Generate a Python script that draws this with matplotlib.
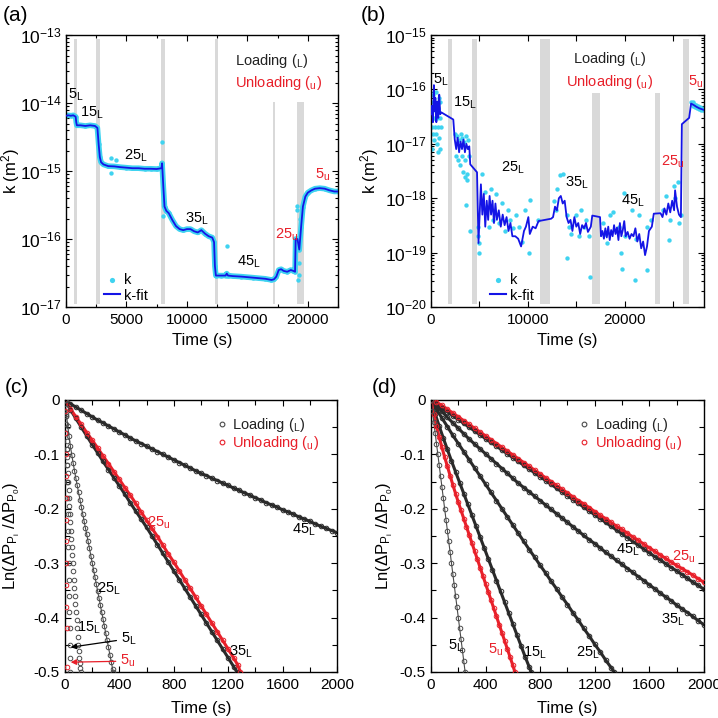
import numpy as np
import matplotlib
matplotlib.use('Agg')
import matplotlib.pyplot as plt
from matplotlib.ticker import LogLocator, NullFormatter, MultipleLocator, FixedLocator

plt.rcParams['font.family'] = ['Liberation Sans', 'DejaVu Sans']
plt.rcParams['mathtext.fontset'] = 'custom'
plt.rcParams['mathtext.rm'] = 'Liberation Sans'
plt.rcParams['mathtext.it'] = 'Liberation Sans:italic'
plt.rcParams['mathtext.bf'] = 'Liberation Sans:bold'

CYAN = '#3fd3f0'
BLUE = '#1414e6'
RED = '#e8202a'
GRAY = '#4a4a4a'
DARK = '#2a2a2a'
BAR = '#d9d9d9'

# ---------------- panel (a) ----------------
T_A = [0, 200, 400, 600, 800, 850, 900, 1200, 1600, 2000, 2400, 2600, 2700, 2800, 2900,
       3100, 3500, 4000, 4500, 5000, 5500, 6000, 6500, 7000, 7500, 7900, 7950, 8050,
       8150, 8300, 8500, 8800, 9100, 9400, 9700, 10000, 10300, 10600, 10900, 11200,
       11500, 11800, 12100, 12250, 12320, 12400, 12800, 13200, 13300, 13400, 13800,
       14500, 15000, 15500, 16000, 16500, 17000, 17200, 17400, 17600, 17800, 18000,
       18300, 18600, 18800, 18950, 19000, 19150, 19300, 19450, 19600, 19800, 20000,
       20300, 20600, 21000, 21400, 21800, 22200, 22500]
K_A = [6.5, 6.6, 6.5, 6.6, 6.3, 5.2, 4.7, 4.7, 4.6, 4.7, 4.6, 4.3, 2.5, 1.6, 1.35,
       1.25, 1.18, 1.17, 1.14, 1.12, 1.1, 1.1, 1.08, 1.08, 1.07, 1.1, 1.3, 0.6,
       0.3, 0.26, 0.24, 0.19, 0.155, 0.14, 0.135, 0.14, 0.14, 0.13, 0.125, 0.135,
       0.12, 0.11, 0.105, 0.09, 0.04, 0.029, 0.029, 0.029, 0.031, 0.029, 0.0285,
       0.028, 0.0275, 0.027, 0.0265, 0.026, 0.025, 0.0255, 0.028, 0.035, 0.036, 0.034,
       0.033, 0.035, 0.034, 0.033, 0.1, 0.1, 0.07, 0.15, 0.3, 0.42, 0.48,
       0.52, 0.55, 0.56, 0.55, 0.52, 0.5, 0.5]  # x 1e-15
T_A_OUT = [3700, 3700, 4100, 7980, 8000, 8050, 13300, 19100, 19150, 19200, 19250, 19300, 19350]
K_A_OUT = [1.55, 0.92, 1.45, 2.7, 0.5, 0.22, 0.08, 0.31, 0.27, 0.025, 0.03, 0.045, 0.2]
BARS_A = [(700, 900), (2500, 2800), (7900, 8200), (12300, 12550), (17150, 17330), (19100, 19650)]
BARS_A_TALL = [True, True, True, True, False, False]

# ---------------- panel (b) ----------------
T_B = [0, 100, 200, 300, 350, 450, 550, 650, 750, 850, 950, 1050, 2300, 2450, 2600,
       2750, 2900, 3050, 3200, 3350, 3500, 3650, 3800, 3950, 4050, 4750, 4900, 5000,
       5150, 5300, 5450, 5600, 5750, 5900, 6050, 6200, 6350, 6500, 6650, 6800, 7000,
       7200, 7400, 7600, 7800, 8000, 8200, 8400, 8700, 9000, 9300, 9600, 9800, 10050,
       10200, 10500, 10800, 11100, 12400, 12600, 12800, 13000, 13200, 13400, 13600,
       13800, 14000, 14200, 14400, 14600, 14800, 15000, 15200, 15400, 15600, 15800,
       16000, 16200, 16500, 16650, 17450, 17550, 17700, 17850, 18000, 18150, 18300,
       18450, 18600, 18750, 18900, 19050, 19200, 19350, 19500, 19650, 19800, 19950,
       20100, 20300, 20500, 20700, 20900, 21100, 21300, 21500, 21700, 21900, 22100,
       22300, 22500, 22800, 23000, 23700, 23900, 24100, 24300, 24500, 24700, 24900,
       25100, 25200, 25400, 25600, 25800, 25900, 26650, 26850, 27100, 27400, 27700,
       28000, 28170]
K_B = [3.5e-17, 5e-17, 2.5e-17, 1.2e-16, 4e-17, 7e-17, 2.5e-17, 6e-17, 3e-17, 8e-17,
       3.5e-17, 3.8e-17, 2.8e-17, 1.2e-17, 8e-18, 1.3e-17, 7e-18, 1.1e-17, 8e-18,
       1.2e-17, 7e-18, 1e-17, 8e-18, 9e-18, 4.2e-18, 3e-18, 1.5e-19, 4e-19, 1.8e-18,
       5e-19, 1.2e-18, 3e-19, 9e-19, 4e-19, 1.1e-18, 5e-19, 9e-19, 3.5e-19, 8e-19,
       4e-19, 6e-19, 3e-19, 5e-19, 3.2e-19, 4.5e-19, 2.5e-19, 3.5e-19, 2e-19, 2e-19,
       1.8e-19, 1.3e-19, 2.5e-19, 3e-19, 4.5e-19, 2.2e-19, 3e-19, 2.8e-19, 3.8e-19,
       4.2e-19, 4.5e-19, 7e-19, 6e-19, 1e-18, 1.1e-18, 8e-19, 9e-19, 4.5e-19, 3.5e-19,
       4e-19, 2.5e-19, 4.5e-19, 3e-19, 3.5e-19, 2.2e-19, 3.2e-19, 2.8e-19, 3.5e-19,
       2.4e-19, 3e-19, 4.8e-19, 4.5e-19, 2e-19, 2.5e-19, 1.8e-19, 2.8e-19, 1.9e-19,
       3e-19, 1.7e-19, 2.6e-19, 2e-19, 3.2e-19, 2.2e-19, 2.9e-19, 1.7e-19, 3.5e-19,
       2e-19, 2.6e-19, 3.8e-19, 2e-19, 2.4e-19, 1.8e-19, 2.2e-19, 2e-19, 2.8e-19,
       1.6e-19, 2.2e-19, 1.2e-19, 1.6e-19, 9e-20, 1.3e-19, 2.5e-19, 3e-19, 5.2e-19,
       5.3e-19, 4.5e-19, 6.5e-19, 5e-19, 8e-19, 5.5e-19, 9e-19, 6e-19, 1.4e-18, 7e-19,
       5e-19, 4.5e-19, 2.3e-17, 3e-17, 5.5e-17, 5.2e-17, 4.8e-17, 4.5e-17, 4.3e-17, 4.2e-17]
T_B_PTS = [50, 100, 150, 200, 250, 300, 350, 400, 450, 500, 550, 600, 650, 700, 750, 800,
           850, 900, 950, 1000, 150, 700, 350, 900,
           2450, 2550, 2650, 2750, 2850, 2950, 3050, 3150, 3250, 3350, 3450, 3550, 3650,
           3750, 3850, 3950, 3700, 3500, 3590, 4030,
           4850, 4900, 4950, 5000, 5310, 5600, 5800, 6000, 6200, 6400, 6700, 7000, 7300,
           7600, 7900, 8200, 8500, 8800, 9100, 9400, 9700, 10070, 10240,
           11000, 12700, 12900, 13000, 13340, 13600, 14000, 14030, 14200, 14500, 15000,
           15300, 15500, 15800, 16000, 16300, 16450,
           17800, 18000, 18200, 18500, 18830, 19400, 19600, 19720, 19900, 20000, 20760,
           21100, 21200, 21500, 22300, 22300, 22700,
           24000, 24300, 24550, 24700, 25070, 25200, 25520, 25600, 25800,
           26800, 26900, 27000, 27100, 27200, 27300, 27400, 27500, 27600, 27700, 27800,
           27900, 28000, 28100]
K_B_PTS = [6e-17, 2e-17, 4e-17, 1.5e-17, 8e-17, 3e-17, 1.2e-17, 5e-17, 2e-17, 9e-17,
           1.5e-17, 3e-17, 1e-17, 4.5e-17, 2e-17, 7e-17, 1.3e-17, 3e-17, 6e-17, 2e-17,
           8e-18, 7e-18, 9e-17, 8e-18,
           1.5e-17, 6e-18, 1.4e-17, 5e-18, 1.2e-17, 4e-18, 1.5e-17, 6e-18, 1.3e-17,
           3e-18, 1.1e-17, 5e-18, 1.4e-17, 2.8e-18, 1.2e-17, 6e-18, 2.2e-18, 2.5e-18,
           7.4e-19, 2.5e-19,
           3e-19, 2e-19, 1e-19, 1.5e-19, 2.8e-18, 1.3e-18, 7e-19, 3e-19, 1.5e-18, 4e-19,
           1.2e-18, 3.5e-19, 8e-19, 2.5e-19, 6e-19, 4e-19, 2.8e-19, 5e-19, 3e-19,
           1.6e-19, 6e-19, 1e-19, 9.3e-19,
           4e-19, 9e-19, 6e-19, 1.5e-18, 2.7e-18, 2.8e-18, 5e-19, 7.8e-20, 3e-19, 2.2e-19,
           5e-19, 2e-19, 6e-19, 3e-19, 4e-19, 2e-19, 3.5e-20,
           3.5e-19, 2.2e-19, 1.5e-19, 5e-19, 5.6e-19, 3e-19, 1e-19, 5e-20, 1.26e-18,
           2e-19, 6.1e-19, 3.1e-20, 1.8e-19, 5e-19, 4.7e-20, 3e-19, 4e-19,
           6e-19, 1.1e-18, 1.7e-19, 4e-19, 1.7e-18, 1e-18, 2e-18, 3.5e-19, 5e-19,
           6e-17, 5.5e-17, 5.8e-17, 5e-17, 5.5e-17, 4.7e-17, 5.2e-17, 4.5e-17, 5e-17,
           4.3e-17, 4.8e-17, 4.2e-17, 4.6e-17, 4.1e-17]
BARS_B = [(1720, 2140), (4280, 4720), (11280, 12310), (16620, 17480), (23170, 23690), (26000, 26620)]
BARS_B_TALL = [True, True, True, False, False, True]

# ---------------- panel (c) ----------------
T_C45 = list(range(0, 2001, 40))
Y_C45 = [0, -0.007, -0.013, -0.019, -0.025, -0.031, -0.037, -0.042, -0.048, -0.053,
         -0.059, -0.064, -0.07, -0.075, -0.08, -0.085, -0.09, -0.095, -0.1, -0.105,
         -0.11, -0.115, -0.12, -0.125, -0.13, -0.135, -0.139, -0.144, -0.148, -0.153,
         -0.157, -0.162, -0.166, -0.171, -0.175, -0.18, -0.184, -0.189, -0.193, -0.197,
         -0.202, -0.206, -0.21, -0.215, -0.219, -0.223, -0.228, -0.232, -0.236, -0.24, -0.244]
T_C35 = list(range(0, 1241, 40)) + [1265]
Y_C35 = [0, -0.018, -0.034, -0.05, -0.066, -0.082, -0.097, -0.113, -0.128, -0.143,
         -0.158, -0.173, -0.189, -0.204, -0.219, -0.234, -0.25, -0.266, -0.282, -0.298,
         -0.314, -0.33, -0.346, -0.362, -0.378, -0.394, -0.41, -0.426, -0.442, -0.458,
         -0.474, -0.49, -0.5]
T_C25U = list(range(0, 1241, 40)) + [1270, 1290]
Y_C25U = [0, -0.016, -0.031, -0.045, -0.06, -0.074, -0.088, -0.103, -0.117, -0.132,
          -0.146, -0.161, -0.175, -0.19, -0.206, -0.221, -0.236, -0.251, -0.267, -0.283,
          -0.298, -0.314, -0.33, -0.346, -0.362, -0.378, -0.394, -0.41, -0.426, -0.442,
          -0.458, -0.474, -0.487, -0.5]
T_C25 = list(range(0, 351, 10)) + [355]
Y_C25 = [0, -0.025, -0.047, -0.067, -0.085, -0.101, -0.116, -0.13, -0.144, -0.157,
         -0.17, -0.183, -0.196, -0.209, -0.222, -0.235, -0.247, -0.26, -0.273, -0.286,
         -0.299, -0.312, -0.325, -0.338, -0.351, -0.364, -0.377, -0.39, -0.403, -0.416,
         -0.429, -0.442, -0.455, -0.468, -0.481, -0.494, -0.5]
T_C15 = [2, 4, 6, 8, 10, 12, 14, 16, 18, 20, 23, 26, 29, 32, 35, 38, 41, 45, 49, 53,
         57, 61, 65, 69, 73, 77, 81, 85, 89, 93, 97, 101, 105, 109, 113, 117]
Y_C15 = [0, -0.015, -0.03, -0.045, -0.06, -0.075, -0.09, -0.105, -0.12, -0.135, -0.15,
         -0.165, -0.18, -0.195, -0.21, -0.225, -0.24, -0.255, -0.27, -0.285, -0.3,
         -0.315, -0.33, -0.345, -0.36, -0.375, -0.39, -0.405, -0.42, -0.435, -0.45,
         -0.462, -0.474, -0.484, -0.492, -0.5]
T_C5 = [6, 8, 10, 12, 14, 16, 18, 20, 22, 24, 26, 28, 30, 32, 34, 36, 38, 40]
Y_C5 = [0, -0.03, -0.06, -0.09, -0.12, -0.15, -0.18, -0.21, -0.24, -0.27, -0.3, -0.33,
        -0.36, -0.39, -0.42, -0.45, -0.475, -0.5]
T_C5U = [2, 3, 4, 5, 6, 7, 8, 9, 10, 11, 12, 13]
Y_C5U = [-0.02, -0.06, -0.1, -0.14, -0.18, -0.22, -0.26, -0.3, -0.34, -0.38, -0.42, -0.49]

# ---------------- panel (d) ----------------
T_D45 = list(range(0, 2001, 40))
Y_D45 = [0, -0.008, -0.015, -0.022, -0.029, -0.036, -0.043, -0.05, -0.057, -0.064,
         -0.071, -0.078, -0.085, -0.092, -0.099, -0.106, -0.113, -0.12, -0.127, -0.134,
         -0.141, -0.148, -0.155, -0.162, -0.169, -0.176, -0.183, -0.19, -0.197, -0.204,
         -0.211, -0.218, -0.225, -0.232, -0.239, -0.246, -0.253, -0.26, -0.267, -0.274,
         -0.281, -0.288, -0.294, -0.301, -0.308, -0.314, -0.321, -0.328, -0.335, -0.341, -0.348]
T_D25U = list(range(0, 2001, 40))
Y_D25U = [0, -0.004, -0.01, -0.017, -0.024, -0.031, -0.038, -0.045, -0.052, -0.059,
          -0.066, -0.073, -0.08, -0.087, -0.094, -0.101, -0.108, -0.115, -0.122, -0.129,
          -0.136, -0.143, -0.15, -0.157, -0.164, -0.171, -0.178, -0.185, -0.191, -0.198,
          -0.205, -0.212, -0.218, -0.225, -0.232, -0.238, -0.245, -0.252, -0.258, -0.265,
          -0.272, -0.278, -0.285, -0.291, -0.298, -0.304, -0.31, -0.316, -0.322, -0.329, -0.335]
T_D35 = list(range(0, 2001, 40))
Y_D35 = [0, -0.011, -0.021, -0.032, -0.042, -0.052, -0.062, -0.072, -0.081, -0.09,
         -0.099, -0.108, -0.117, -0.126, -0.135, -0.144, -0.153, -0.161, -0.169, -0.177,
         -0.185, -0.193, -0.201, -0.209, -0.217, -0.225, -0.233, -0.241, -0.249, -0.257,
         -0.264, -0.272, -0.28, -0.287, -0.295, -0.302, -0.31, -0.317, -0.325, -0.332,
         -0.34, -0.347, -0.355, -0.362, -0.369, -0.377, -0.384, -0.391, -0.398, -0.406, -0.413]
T_D25 = list(range(0, 1321, 40)) + [1342]
Y_D25 = [0, -0.017, -0.033, -0.049, -0.065, -0.08, -0.095, -0.11, -0.125, -0.14,
         -0.155, -0.17, -0.185, -0.2, -0.215, -0.23, -0.245, -0.26, -0.275, -0.289,
         -0.304, -0.318, -0.333, -0.347, -0.362, -0.376, -0.391, -0.405, -0.42, -0.434,
         -0.449, -0.463, -0.478, -0.492, -0.5]
T_D15 = list(range(0, 721, 30)) + [735]
Y_D15 = [0, -0.025, -0.048, -0.07, -0.091, -0.112, -0.132, -0.152, -0.172, -0.192,
         -0.212, -0.232, -0.252, -0.272, -0.292, -0.312, -0.332, -0.352, -0.372, -0.392,
         -0.412, -0.432, -0.452, -0.472, -0.491, -0.5]
T_D5U = list(range(0, 601, 20)) + [615]
Y_D5U = [0, -0.025, -0.048, -0.068, -0.087, -0.105, -0.122, -0.139, -0.156, -0.172,
         -0.188, -0.203, -0.218, -0.233, -0.248, -0.263, -0.278, -0.293, -0.308, -0.323,
         -0.338, -0.353, -0.368, -0.383, -0.398, -0.413, -0.428, -0.443, -0.458, -0.473,
         -0.488, -0.5]
T_D5 = list(range(0, 251, 10))
Y_D5 = [0, -0.02, -0.04, -0.06, -0.08, -0.1, -0.12, -0.14, -0.16, -0.18, -0.2, -0.22,
        -0.24, -0.26, -0.28, -0.3, -0.32, -0.34, -0.36, -0.38, -0.4, -0.42, -0.44,
        -0.46, -0.48, -0.5]


def sub(num, s):
  return r'%s$_{\mathregular{%s}}$' % (num, s)


def style_axes(ax):
  ax.tick_params(which='both', direction='in', top=True, right=True, labelsize=11,
                 width=0.8, pad=4)
  ax.tick_params(which='major', length=4.5)
  ax.tick_params(which='minor', length=2.5)
  for sp in ax.spines.values():
    sp.set_linewidth(1.0)


def draw_k_panel(ax, T, K, Tp, Kp, bars, tall, xmax, decades, short_top, band, leg_x):
  for (b0, b1), t in zip(bars, tall):
    ax.axvspan(b0, b1, ymin=0.012, ymax=0.985 if t else short_top, color=BAR, lw=0, zorder=0)
  if band:
    ax.plot(T, K, color=CYAN, lw=4, zorder=1, solid_joinstyle='round')
  ax.scatter(Tp, Kp, s=10, color=CYAN, lw=0, zorder=2)
  ax.plot(T, K, color=BLUE, lw=1.3, zorder=3)
  ax.set_yscale('log')
  ax.set_xlim(0, xmax)
  ax.set_ylim(decades[0], decades[-1])
  ax.yaxis.set_major_locator(FixedLocator(decades))
  ax.yaxis.set_minor_locator(LogLocator(base=10, subs=np.arange(2, 10), numticks=10))
  ax.yaxis.set_minor_formatter(NullFormatter())
  ax.set_xlabel('Time (s)', fontsize=12)
  ax.set_ylabel(r'k (m$^2$)', fontsize=12)
  style_axes(ax)
  ax.tick_params(axis='y', which='major', labelsize=12.5, pad=3)
  h1 = ax.scatter([], [], s=14, color=CYAN, lw=0, label='k')
  h2, = ax.plot([], [], color=BLUE, lw=1.5, label='k-fit')
  ax.legend(handles=[h1, h2], loc='lower left', bbox_to_anchor=(leg_x, -0.005),
            borderaxespad=0, frameon=False, fontsize=10.5, handlelength=1.1,
            handletextpad=0.3, labelspacing=0.1)


fig = plt.figure(figsize=(7.18, 7.18), dpi=100)
axa = fig.add_axes([0.0919, 0.5724, 0.3788, 0.3788])
axb = fig.add_axes([0.6003, 0.5724, 0.3800, 0.3788])
axc = fig.add_axes([0.0905, 0.0641, 0.3788, 0.3788])
axd = fig.add_axes([0.6003, 0.0641, 0.3800, 0.3788])

# (a)
K_A_abs = [k * 1e-15 for k in K_A]
K_A_pts = [k * 1e-15 for k in K_A + K_A_OUT]
draw_k_panel(axa, T_A, K_A_abs, T_A + T_A_OUT, K_A_pts, BARS_A, BARS_A_TALL,
             22500, [1e-17, 1e-16, 1e-15, 1e-14, 1e-13], 0.754, True, 0.118)
axa.xaxis.set_major_locator(MultipleLocator(5000))
axa.xaxis.set_minor_locator(MultipleLocator(2500))
axa.xaxis.set_label_coords(0.5, -0.096)
axa.yaxis.set_label_coords(-0.162, 0.5)
axa.text(0.62, 0.905, r'Loading (${}_{\mathregular{L}}$)', transform=axa.transAxes,
         fontsize=10.5, color='#222222', va='center')
axa.text(0.62, 0.825, r'Unloading (${}_{\mathregular{u}}$)', transform=axa.transAxes,
         fontsize=10.5, color=RED, va='center')
for txt, x, y, c in [(sub('5', 'L'), 160, 1.3e-14, 'k'), (sub('15', 'L'), 1150, 7.1e-15, 'k'),
                     (sub('25', 'L'), 4800, 1.66e-15, 'k'), (sub('35', 'L'), 9850, 2.0e-16, 'k'),
                     (sub('45', 'L'), 14150, 4.6e-17, 'k'), (sub('25', 'u'), 17300, 1.15e-16, RED),
                     (sub('5', 'u'), 20600, 8.7e-16, RED)]:
  axa.text(x, y, txt, color=c, fontsize=10.5, va='center', ha='left')

# (b)
draw_k_panel(axb, T_B, K_B, T_B_PTS, K_B_PTS, BARS_B, BARS_B_TALL,
             28170, [1e-20, 1e-19, 1e-18, 1e-17, 1e-16, 1e-15], 0.787, False, 0.195)
axb.xaxis.set_major_locator(MultipleLocator(10000))
axb.xaxis.set_minor_locator(MultipleLocator(5000))
axb.tick_params(axis='x', which='minor', length=4.5)
axb.xaxis.set_label_coords(0.5, -0.096)
axb.yaxis.set_label_coords(-0.183, 0.5)
axb.text(0.655, 0.912, r'Loading (${}_{\mathregular{L}}$)', transform=axb.transAxes,
         fontsize=10.5, color='#222222', va='center', ha='center')
axb.text(0.655, 0.828, r'Unloading (${}_{\mathregular{u}}$)', transform=axb.transAxes,
         fontsize=10.5, color=RED, va='center', ha='center')
for txt, x, y, c in [(sub('5', 'L'), 200, 1.5e-16, 'k'), (sub('15', 'L'), 2280, 5.6e-17, 'k'),
                     (sub('25', 'L'), 7250, 3.6e-18, 'k'), (sub('35', 'L'), 13880, 1.9e-18, 'k'),
                     (sub('45', 'L'), 19570, 8.9e-19, 'k'), (sub('25', 'u'), 23720, 4.7e-18, RED),
                     (sub('5', 'u'), 26550, 1.4e-16, RED)]:
  axb.text(x, y, txt, color=c, fontsize=10.5, va='center', ha='left')


def draw_ln_panel(ax, series, labels, arrows, leg_x):
  for T, Y, col, lw in series:
    if lw > 0:
      ax.plot(T, Y, color=col, lw=lw, zorder=2)
    ax.plot(T, Y, ls='none', marker='o', ms=3.3, mfc='none', mec=col, mew=0.7, zorder=3)
  ax.set_xlim(0, 2000)
  ax.set_ylim(-0.5, 0)
  ax.xaxis.set_major_locator(MultipleLocator(400))
  ax.xaxis.set_minor_locator(MultipleLocator(200))
  ax.yaxis.set_major_locator(MultipleLocator(0.1))
  ax.yaxis.set_minor_locator(MultipleLocator(0.05))
  ax.yaxis.set_major_formatter(plt.FuncFormatter(lambda v, p: '0' if abs(v) < 1e-9 else '%g' % v))
  ax.set_xlabel('Time (s)', fontsize=12)
  ax.set_ylabel(r'Ln($\Delta$P$_{\mathregular{P}_\mathregular{i}}$ /$\Delta$P$_{\mathregular{P}_0}$)',
                fontsize=12)
  style_axes(ax)
  ax.tick_params(which='minor', length=3.5)
  for txt, x, y, c in labels:
    ax.text(x, y, txt, color=c, fontsize=10.5, va='center', ha='left', zorder=5)
  for txt, x, y, tx, ty, c in arrows:
    ax.annotate(txt, xy=(tx, ty), xytext=(x, y), color=c, fontsize=10.5, va='center',
                arrowprops=dict(arrowstyle='-|>', color=c, lw=0.9, mutation_scale=8,
                                shrinkA=1, shrinkB=0))
  h1, = ax.plot([], [], ls='none', marker='o', ms=3.4, mfc='none', mec=GRAY, mew=0.8,
                label=r'Loading (${}_{\mathregular{L}}$)')
  h2, = ax.plot([], [], ls='none', marker='o', ms=3.4, mfc='none', mec=RED, mew=0.8,
                label=r'Unloading (${}_{\mathregular{u}}$)')
  leg = ax.legend(handles=[h1, h2], loc='upper right', bbox_to_anchor=(leg_x, 0.963),
                  borderaxespad=0, frameon=False, fontsize=10.5, handlelength=0.6,
                  handletextpad=0.4, labelspacing=0.0)
  leg.get_texts()[0].set_color('#222222')
  leg.get_texts()[1].set_color(RED)


draw_ln_panel(axc,
              [(T_C45, Y_C45, DARK, 2.2), (T_C35, Y_C35, DARK, 2.2),
               (T_C25U, Y_C25U, RED, 2.2), (T_C25, Y_C25, GRAY, 0.8),
               (T_C15, Y_C15, GRAY, 0), (T_C5, Y_C5, GRAY, 0),
               (T_C5U, Y_C5U, RED, 0)],
              [(sub('45', 'L'), 1672, -0.238, 'k'), (sub('25', 'u'), 600, -0.225, RED),
               (sub('35', 'L'), 1207, -0.462, 'k'), (sub('25', 'L'), 237, -0.348, 'k'),
               (sub('15', 'L'), 91, -0.418, 'k')],
              [(sub('5', 'L'), 409, -0.439, 42, -0.4545, 'k'),
               (sub('5', 'u'), 404, -0.48, 42, -0.482, RED)], 0.955)
axc.xaxis.set_label_coords(0.5, -0.107)
axc.yaxis.set_label_coords(-0.158, 0.5)

draw_ln_panel(axd,
              [(T_D45, Y_D45, DARK, 2.2), (T_D35, Y_D35, DARK, 2.2),
               (T_D25U, Y_D25U, RED, 2.2), (T_D25, Y_D25, DARK, 2.2),
               (T_D15, Y_D15, DARK, 2.2), (T_D5U, Y_D5U, RED, 2.2),
               (T_D5, Y_D5, GRAY, 0.8)],
              [(sub('5', 'L'), 122, -0.451, 'k'), (sub('5', 'u'), 415, -0.459, RED),
               (sub('15', 'L'), 671, -0.465, 'k'), (sub('25', 'L'), 1061, -0.465, 'k'),
               (sub('35', 'L'), 1688, -0.404, 'k'), (sub('45', 'L'), 1354, -0.276, 'k'),
               (sub('25', 'u'), 1768, -0.288, RED)],
              [], 0.94)
axd.xaxis.set_label_coords(0.5, -0.107)
axd.yaxis.set_label_coords(-0.132, 0.5)

for lab, x, y in [('(a)', 0.004, 0.978), ('(b)', 0.503, 0.978), ('(c)', 0.006, 0.46), ('(d)', 0.518, 0.46)]:
  fig.text(x, y, lab, fontsize=15, va='center', ha='left')

fig.savefig('out.png', dpi=100)
